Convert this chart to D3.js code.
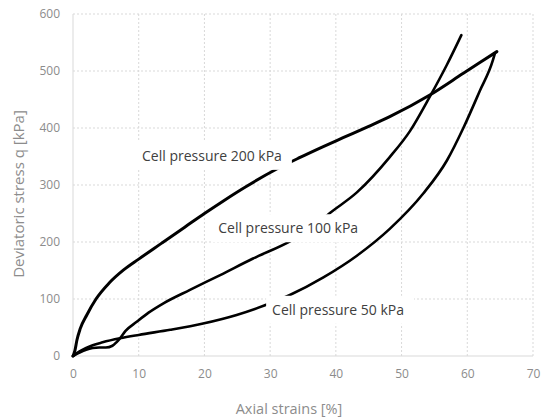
<!DOCTYPE html>
<html>
<head>
<meta charset="utf-8">
<script src="https://cdn.jsdelivr.net/npm/d3@7"></script>
<style>
  html, body { margin: 0; padding: 0; background: #fff; }
  svg { display: block; font-family: "Open Sans", sans-serif; }
</style>
</head>
<body>
<svg id="chart" width="542" height="419"></svg>
<script>
// ---- data ----
const xTicks = [0, 10, 20, 30, 40, 50, 60, 70];
const yTicks = [0, 100, 200, 300, 400, 500, 600];

const strain200 = [0, 0.3, 0.6, 1.1, 2.1, 3.5, 5.5, 7.7, 10.0, 13.5, 17.0, 20.0, 23.0, 26.3, 31.0, 34.3, 38.0, 41.1, 45.0, 48.2, 54.3, 59.4, 64.5];
const q200      = [0, 10, 28, 48, 72, 100, 128, 151, 170, 198, 226, 250, 273, 297, 328, 347, 367, 383, 403, 420, 458, 496, 534];

const strain100 = [0, 1.0, 2.0, 3.0, 4.0, 5.0, 6.0, 6.6, 7.15, 8.0, 9.7, 11.5, 13.7, 17.8, 22.4, 27.4, 33.3, 36.0, 39.1, 43.2, 48.2, 51.3, 54.3, 56.9, 59.1];
const q100      = [0, 6, 11, 14, 15, 15, 18, 24, 31, 44, 60, 76, 92, 116, 142, 171, 203, 222, 251, 287, 349, 395, 455, 511, 563];

const strain50 = [0, 1.0, 2.0, 3.0, 4.5, 7.15, 10.0, 14.8, 19.8, 24.9, 29.0, 33.0, 38.1, 43.2, 48.2, 53.3, 56.9, 59.4, 61.9, 63.9, 64.2];
const q50      = [0, 8, 14, 19, 24, 31, 37, 46, 57, 72, 88, 107, 138, 176, 223, 285, 343, 400, 465, 519, 531];

const seriesNames = ["Cell pressure 200 kPa", "Cell pressure 100 kPa", "Cell pressure 50 kPa"];
const xTitle = "Axial strains [%]";
const yTitle = "Deviatoric stress q [kPa]";

// ---- layout ----
const svg = d3.select("#chart");
const mLeft = 73, mRight = 533, mTop = 14, mBottom = 356;
const x = d3.scaleLinear().domain([0, 70]).range([mLeft, mRight]);
const y = d3.scaleLinear().domain([0, 600]).range([mBottom, mTop]);

// gridlines
const grid = svg.append("g");
grid.selectAll("line.h").data(yTicks.filter(d => d > 0)).join("line")
  .attr("x1", mLeft).attr("x2", mRight)
  .attr("y1", d => y(d)).attr("y2", d => y(d))
  .attr("stroke", "#d9d9d9").attr("stroke-width", 1).attr("stroke-dasharray", "2,2");
grid.selectAll("line.v").data(xTicks.filter(d => d > 0)).join("line")
  .attr("y1", mTop).attr("y2", mBottom)
  .attr("x1", d => x(d)).attr("x2", d => x(d))
  .attr("stroke", "#d9d9d9").attr("stroke-width", 1).attr("stroke-dasharray", "2,2");

// axis lines
svg.append("line").attr("x1", mLeft).attr("x2", mRight).attr("y1", mBottom).attr("y2", mBottom)
  .attr("stroke", "#d9d9d9").attr("stroke-width", 1);
svg.append("line").attr("x1", mLeft).attr("x2", mLeft).attr("y1", mTop).attr("y2", mBottom)
  .attr("stroke", "#d9d9d9").attr("stroke-width", 1);

// axes via d3
const xAxis = svg.append("g").attr("transform", `translate(0,${mBottom})`)
  .call(d3.axisBottom(x).tickValues(xTicks).tickSize(0).tickPadding(13).tickFormat(d3.format("d")));
const yAxis = svg.append("g").attr("transform", `translate(${mLeft},0)`)
  .call(d3.axisLeft(y).tickValues(yTicks).tickSize(0).tickPadding(13).tickFormat(d3.format("d")));
[xAxis, yAxis].forEach(a => {
  a.select(".domain").remove();
  a.selectAll("text").attr("fill", "#8c8c8c").style("font-size", "12px").style("font-family", "'Open Sans', sans-serif");
});

// titles
svg.append("text").attr("x", 289).attr("y", 408).attr("text-anchor", "middle")
  .attr("dominant-baseline", "central").attr("fill", "#8c8c8c").style("font-size", "14.5px").text(xTitle);
svg.append("text").attr("transform", "translate(18,194) rotate(-90)").attr("text-anchor", "middle")
  .attr("dominant-baseline", "central").attr("fill", "#8c8c8c").style("font-size", "15px").text(yTitle);

// curves
const lineGen = d3.line().x(d => x(d[0])).y(d => y(d[1])).curve(d3.curveMonotoneX);
const curves = [
  d3.zip(strain200, q200),
  d3.zip(strain100, q100),
  d3.zip(strain50, q50)
];
svg.append("g").selectAll("path").data(curves).join("path")
  .attr("d", d => lineGen(d))
  .attr("fill", "none").attr("stroke", "#000")
  .attr("stroke-width", (d, i) => i === 0 ? 3 : 2.6)
  .attr("stroke-linejoin", "round").attr("stroke-linecap", "round");

// labels with white boxes (data-coordinate anchors: left edge, vertical centre)
const labelAnchors = [[10.5, 352], [22.1, 225], [30.3, 82]];
const lg = svg.append("g");
seriesNames.forEach((name, i) => {
  const g = lg.append("g");
  const t = g.append("text").attr("x", x(labelAnchors[i][0])).attr("y", y(labelAnchors[i][1]))
    .attr("dominant-baseline", "central").attr("fill", "#404040").style("font-size", "14px").text(name);
  const bb = t.node().getBBox();
  g.insert("rect", "text").attr("x", bb.x - 6).attr("y", bb.y - 4)
    .attr("width", bb.width + 16).attr("height", bb.height + 9).attr("fill", "#fff");
});
</script>
</body>
</html>
